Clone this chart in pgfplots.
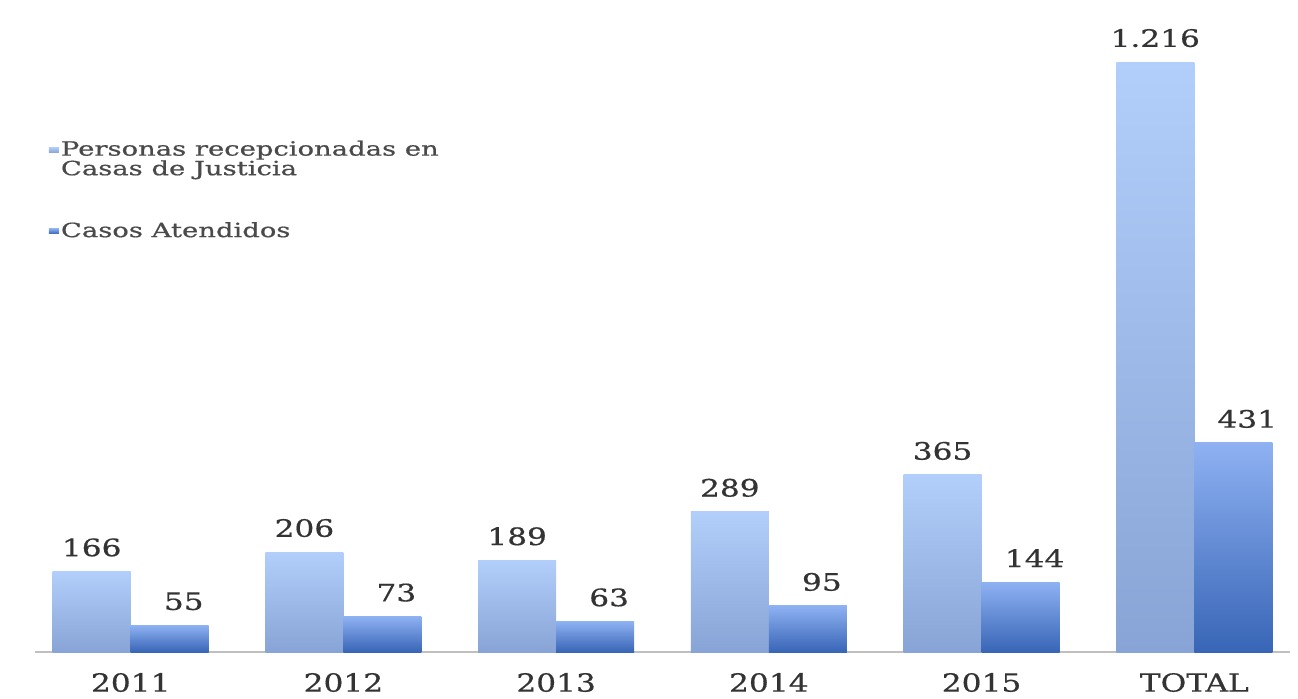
\documentclass[border=0pt]{standalone}
\usepackage{pgfplots}
\pgfplotsset{compat=1.18}
\usepackage{fontspec}
\setmainfont{DejaVu Serif}
\newfontfamily\tickfont[FakeStretch=1.25, FakeBold=0.6]{DejaVu Serif}
\newfontfamily\lblfont[FakeStretch=1.3, FakeBold=0.6]{DejaVu Serif}
\newfontfamily\legfont[FakeStretch=1.4, FakeBold=0.7]{DejaVu Serif}
\definecolor{sAtop}{HTML}{B2CEFA}
\definecolor{sAbot}{HTML}{88A4D6}
\definecolor{sBtop}{HTML}{8EB1F2}
\definecolor{sBbot}{HTML}{3865B6}
\definecolor{txt}{HTML}{333333}
\definecolor{lgtxt}{HTML}{4A4A4A}
\pgfplotsset{
  serA/.style={draw=none, top color=sAtop, bottom color=sAbot, bar shift=-19.5pt},
  serB/.style={draw=none, top color=sBtop, bottom color=sBbot, bar shift=19.5pt,
    every node near coord/.append style={xshift=7pt}},
}
\begin{document}
\begin{tikzpicture}
\useasboundingbox (-17.5pt,-23pt) rectangle (631.5pt,326pt);
\begin{axis}[
  scale only axis, width=627.5pt, height=326pt,
  ymin=0, ymax=1344, xmin=-0.45, xmax=5.45,
  axis x line*=bottom, axis y line=none,
  x axis line style={draw=black!25, line width=1pt, -},
  xtick={0,1,2,3,4,5}, xticklabels={2011,2012,2013,2014,2015,TOTAL},
  major tick length=0pt,
  xticklabel style={font=\tickfont\fontsize{12.5}{14}\selectfont, text=txt, yshift=-7pt},
  ytick=\empty,
  ybar, bar width=39pt,
  clip=false,
  /pgf/number format/assume math mode=true,
  /pgf/number format/1000 sep={.},
  nodes near coords,
  every node near coord/.append style={font=\lblfont\fontsize{12}{14}\selectfont, text=txt, anchor=center, yshift=12pt},
  legend style={at={(0.006,0.794)}, anchor=north west, draw=none, fill=none,
    font=\legfont\fontsize{9.8}{9.8}\selectfont, text=lgtxt, row sep=20pt,
    nodes={align=left, inner sep=1pt}},
  legend cell align=left,
]
\addplot[serA,
  legend image code/.code={\fill[sAtop!70!sAbot] (-1.5pt,3.4pt) rectangle (3.5pt,6.2pt);}]
  coordinates {(0,166)};
\addplot[serB,
  legend image code/.code={\fill[sBtop!40!sBbot] (-1.5pt,-1.4pt) rectangle (3.5pt,1.4pt);}]
  coordinates {(0,55)};
\addplot[serA, forget plot] coordinates {(1,206)};
\addplot[serA, forget plot] coordinates {(2,189)};
\addplot[serA, forget plot] coordinates {(3,289)};
\addplot[serA, forget plot] coordinates {(4,365)};
\addplot[serA, forget plot] coordinates {(5,1216)};
\addplot[serB, forget plot] coordinates {(1,73)};
\addplot[serB, forget plot] coordinates {(2,63)};
\addplot[serB, forget plot] coordinates {(3,95)};
\addplot[serB, forget plot] coordinates {(4,144)};
\addplot[serB, forget plot] coordinates {(5,431)};
\legend{Personas recepcionadas en\\Casas de Justicia, Casos Atendidos}
\end{axis}
\end{tikzpicture}
\end{document}
